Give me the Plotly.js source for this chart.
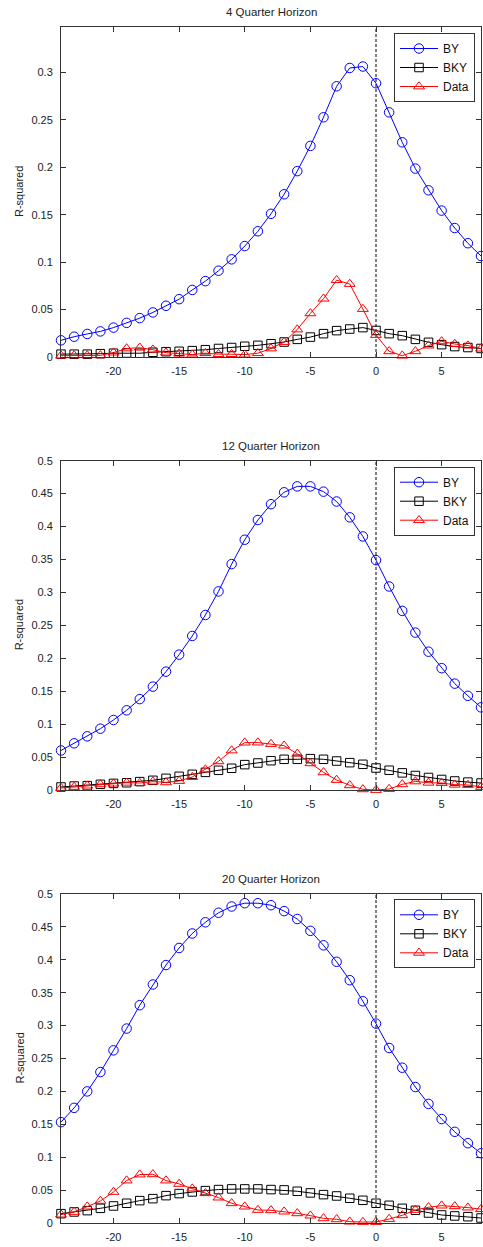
<!DOCTYPE html>
<html>
<head>
<meta charset="utf-8">
<script src="https://cdn.plot.ly/plotly-3.0.1.min.js"></script>
<style>html,body{margin:0;padding:0;background:#fff;}#chart{width:483px;height:1247px;}</style>
</head>
<body>
<div id="chart"></div>
<script>
// ---- data ----
const lags = [-24,-23,-22,-21,-20,-19,-18,-17,-16,-15,-14,-13,-12,-11,-10,-9,-8,-7,-6,-5,-4,-3,-2,-1,0,1,2,3,4,5,6,7,8];

const panelTitles = ['4 Quarter Horizon', '12 Quarter Horizon', '20 Quarter Horizon'];
const seriesNames = ['BY', 'BKY', 'Data'];

const by4   = [0.0176,0.0214,0.0243,0.027,0.031,0.036,0.041,0.047,0.054,0.061,0.0707,0.080,0.091,0.103,0.117,0.1326,0.151,0.1716,0.196,0.2226,0.2528,0.2855,0.3048,0.3063,0.2887,0.258,0.2264,0.1987,0.1758,0.1544,0.136,0.12,0.1065];
const bky4  = [0.003,0.003,0.003,0.0035,0.004,0.0042,0.004,0.005,0.0056,0.006,0.0067,0.0077,0.009,0.010,0.0113,0.0123,0.014,0.0158,0.0186,0.021,0.0246,0.0278,0.0295,0.031,0.028,0.0246,0.0225,0.0186,0.0155,0.013,0.011,0.010,0.009];
const data4 = [0.0014,0.0017,0.0017,0.0017,0.0046,0.009,0.0098,0.0077,0.0046,0.0035,0.0025,0.004,0.003,0.003,0.0025,0.004,0.009,0.0158,0.029,0.046,0.0615,0.081,0.077,0.0506,0.0232,0.006,0.0014,0.006,0.012,0.0165,0.0137,0.012,0.0088];

const by12   = [0.060,0.0709,0.0815,0.0931,0.1063,0.121,0.138,0.157,0.1797,0.2055,0.2339,0.2657,0.3015,0.343,0.380,0.410,0.434,0.452,0.461,0.461,0.453,0.438,0.414,0.385,0.349,0.309,0.272,0.239,0.210,0.185,0.1615,0.143,0.1255];
const bky12  = [0.0046,0.006,0.0066,0.0086,0.010,0.011,0.0127,0.0147,0.0177,0.0208,0.0238,0.0268,0.0299,0.033,0.0385,0.041,0.0445,0.0466,0.0466,0.0476,0.0466,0.044,0.0415,0.039,0.0334,0.030,0.026,0.022,0.019,0.016,0.0137,0.012,0.0106];
const data12 = [0.003,0.0046,0.0066,0.0086,0.0096,0.011,0.0106,0.0127,0.0116,0.0137,0.0197,0.031,0.0435,0.060,0.0719,0.072,0.0698,0.0673,0.055,0.0405,0.0268,0.0152,0.0071,0.001,0.000,0.0015,0.0086,0.013,0.011,0.0106,0.008,0.0076,0.0046];

const by20   = [0.1533,0.175,0.200,0.2294,0.2624,0.2955,0.331,0.3625,0.392,0.418,0.440,0.457,0.4715,0.481,0.486,0.486,0.483,0.474,0.462,0.444,0.422,0.397,0.369,0.337,0.303,0.266,0.236,0.2066,0.181,0.158,0.1386,0.1213,0.106];
const bky20  = [0.0142,0.0168,0.0188,0.0223,0.0259,0.030,0.034,0.037,0.0416,0.0447,0.0472,0.0492,0.0508,0.0518,0.0518,0.0518,0.0508,0.0503,0.0482,0.0457,0.0431,0.0411,0.0376,0.0345,0.030,0.0269,0.0223,0.0193,0.0152,0.0122,0.0107,0.0096,0.0076];
const data20 = [0.0127,0.0168,0.0249,0.0335,0.0472,0.0645,0.0736,0.074,0.0645,0.0594,0.0523,0.0452,0.0386,0.030,0.0249,0.0198,0.0193,0.0173,0.0147,0.0112,0.0071,0.0056,0.002,0.0015,0.0015,0.006,0.0117,0.0198,0.0239,0.0264,0.0254,0.0234,0.021];

const xTickVals = [-20,-15,-10,-5,0,5];
const xTickText = ['-20','-15','-10','-5','0','5'];
const yTickVals4  = [0,0.05,0.1,0.15,0.2,0.25,0.3];
const yTickText4  = ['0','0.05','0.1','0.15','0.2','0.25','0.3'];
const yTickVals12 = [0,0.05,0.1,0.15,0.2,0.25,0.3,0.35,0.4,0.45,0.5];
const yTickText12 = ['0','0.05','0.1','0.15','0.2','0.25','0.3','0.35','0.4','0.45','0.5'];
const yLabel = 'R-squared';

// ---- styling ----
const FONT = 'Liberation Sans, Arial, Helvetica, sans-serif';
const styles = [
  {color: '#0000ff', symbol: 'circle-open', size: 9.5},
  {color: '#000000', symbol: 'square-open', size: 8.5},
  {color: '#ff0000', symbol: 'triangle-up-open', size: 9.5}
];
const panels = [
  {series: [by4, bky4, data4], yr: [0, 0.348], tv: yTickVals4, tt: yTickText4, dom: [1-357/1247, 1-27/1247], titleY: 1-12/1247, legY: 1-33/1247},
  {series: [by12, bky12, data12], yr: [0, 0.5], tv: yTickVals12, tt: yTickText12, dom: [1-790/1247, 1-460.7/1247], titleY: 1-446/1247, legY: 1-466.7/1247},
  {series: [by20, bky20, data20], yr: [0, 0.5], tv: yTickVals12, tt: yTickText12, dom: [1-1223/1247, 1-894/1247], titleY: 1-879/1247, legY: 1-899.3/1247}
];

const traces = [];
const layout = {
  width: 483, height: 1247,
  margin: {l: 61, r: 2, t: 0, b: 0},
  paper_bgcolor: '#fff', plot_bgcolor: '#fff',
  font: {family: FONT, size: 11, color: '#222'},
  showlegend: true,
  annotations: [], shapes: []
};

panels.forEach((p, i) => {
  const k = i === 0 ? '' : String(i + 1);
  const legName = 'legend' + k;
  p.series.forEach((ys, j) => {
    const st = styles[j];
    traces.push({
      x: lags, y: ys, type: 'scatter', mode: 'lines+markers',
      name: seriesNames[j], xaxis: 'x' + k, yaxis: 'y' + k, legend: legName,
      line: {color: st.color, width: 1},
      marker: {symbol: st.symbol, size: st.size, color: st.color, line: {width: 1, color: st.color}},
      cliponaxis: false
    });
  });
  const axCommon = {
    showline: true, linecolor: '#333', linewidth: 1, mirror: 'ticks',
    ticks: 'inside', ticklen: 5, tickcolor: '#333', showgrid: false, zeroline: false,
    tickfont: {family: FONT, size: 11, color: '#222'}, fixedrange: true
  };
  layout['xaxis' + k] = Object.assign({}, axCommon, {
    domain: [0, 1], range: [-24, 8], anchor: 'y' + k,
    tickmode: 'array', tickvals: xTickVals, ticktext: xTickText, ticklabelstandoff: 4
  });
  layout['yaxis' + k] = Object.assign({}, axCommon, {
    domain: p.dom, range: p.yr, anchor: 'x' + k,
    tickmode: 'array', tickvals: p.tv, ticktext: p.tt, ticklabelstandoff: 5
  });
  layout[legName] = {
    x: (475 - 61) / 420, xanchor: 'right', y: p.legY, yanchor: 'top',
    bgcolor: '#fff', bordercolor: '#333', borderwidth: 1,
    font: {family: FONT, size: 12, color: '#111'},
    itemwidth: 38, tracegroupgap: 0
  };
  layout.annotations.push({
    text: panelTitles[i], xref: 'paper', yref: 'paper', x: 0.5, y: p.titleY,
    xanchor: 'center', yanchor: 'middle', showarrow: false,
    font: {family: FONT, size: 11.5, color: '#222'}
  });
  layout.annotations.push({
    text: yLabel, xref: 'paper', yref: 'paper', x: (19 - 61) / 420, y: (p.dom[0] + p.dom[1]) / 2,
    xanchor: 'center', yanchor: 'middle', textangle: -90, showarrow: false,
    font: {family: FONT, size: 11, color: '#222'}
  });
  layout.shapes.push({
    type: 'line', xref: 'x' + k, yref: 'y' + k + ' domain', x0: 0, x1: 0, y0: 0, y1: 1,
    line: {color: '#000', width: 1, dash: '3px,2px'}, layer: 'below'
  });
});

Plotly.newPlot('chart', traces, layout, {displayModeBar: false, staticPlot: true});
</script>
</body>
</html>
